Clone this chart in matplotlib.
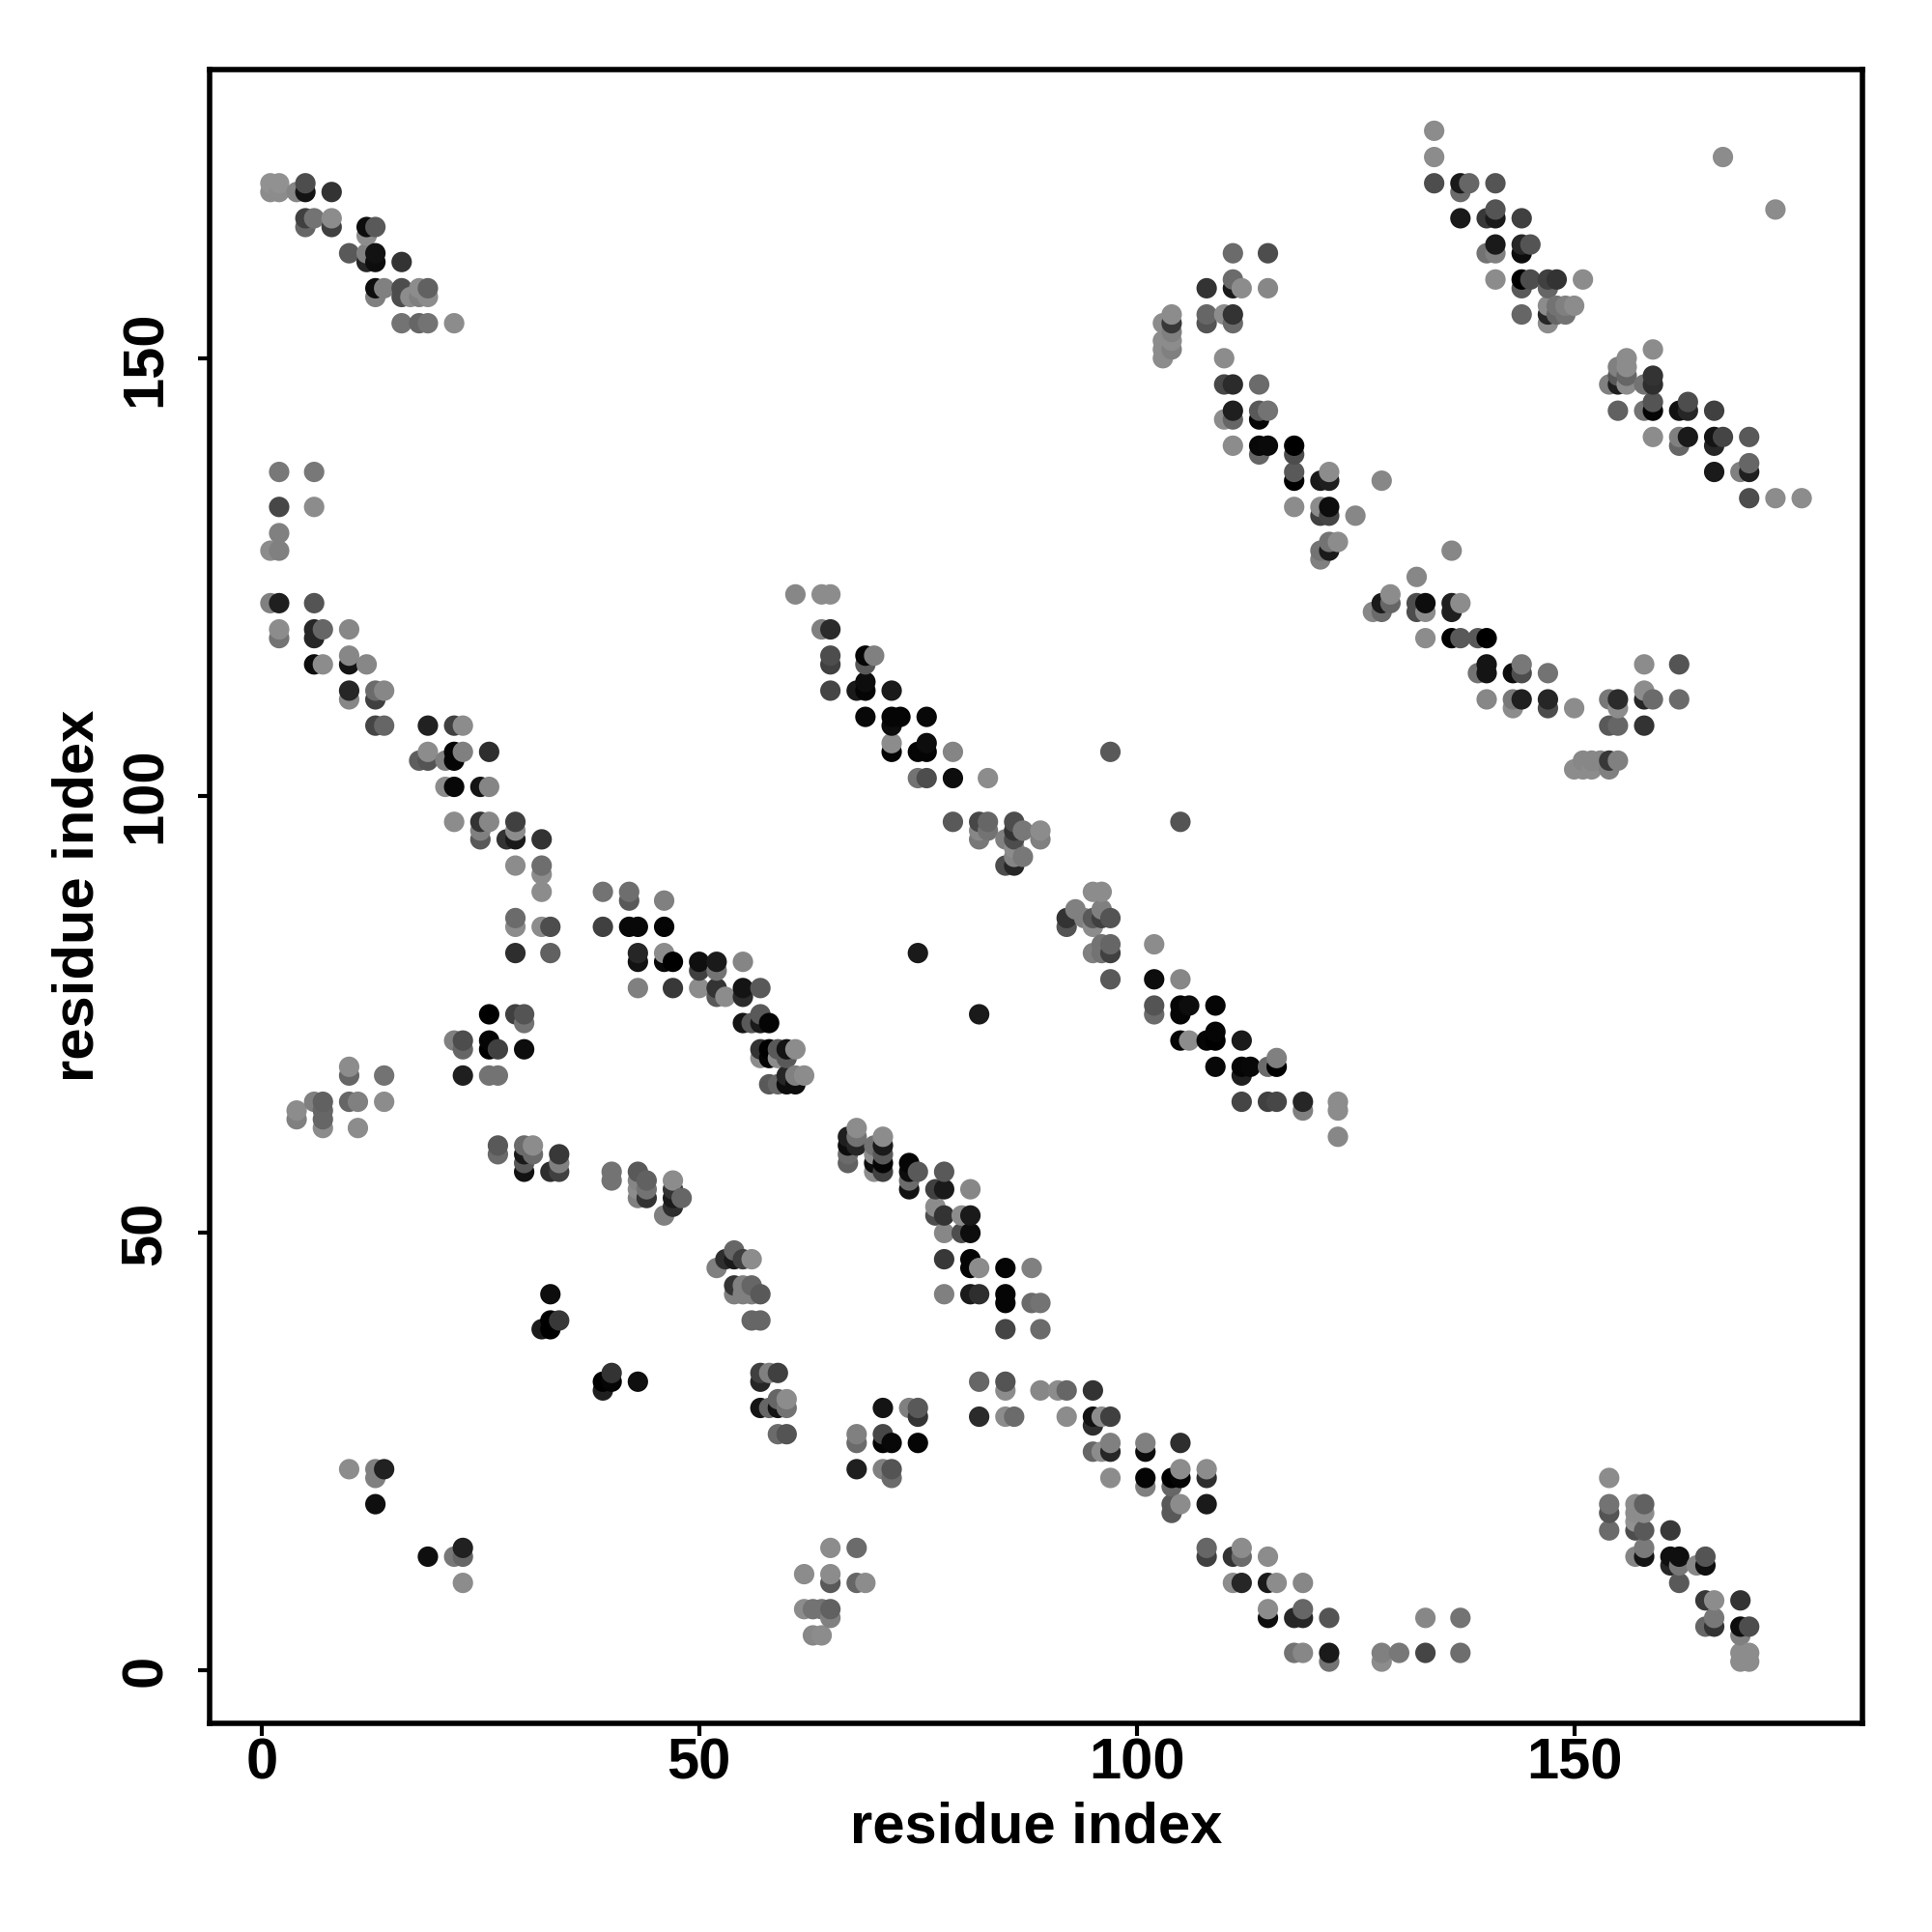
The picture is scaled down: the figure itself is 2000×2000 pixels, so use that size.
import numpy as np
import matplotlib
matplotlib.use("Agg")
import matplotlib.pyplot as plt

plt.rcParams['font.family'] = ['Liberation Sans', 'DejaVu Sans']

tick_values = [0, 50, 100, 150]
axis_title = "residue index"

# contacts by row: j index, the i indices on that row, and their grey levels
row_j = [176,173,170,169,167,166,165,164,163,162,161,159,158,157,156,155,154,153,152,151,150,149,148,147,145,144,143,141,140,139,138,137,136,134,133,132,130,129,128,127,125,123,122,121,119,118,116,115,114,113,112,111,110,109,108,106,105,104,103,102,101,97,96,95,94,93,92,91,89,88,87,86,85,83,82,81,80,79,78,77,76,75,74,73,72,71,70,69,68,67,65,64,63,62,61,60,59,58,57,56,55,54,53,52,50,48,47,46,44,43,42,40,39,34,33,32,31,30,29,28,27,26,25,23,22,21,19,18,17,16,14,13,12,11,10,8,7,6,5,4,2,1]

row_i = [
[134],[134,167],[1,2,5,134,137,138,141],[1,2,4,5,8,137],[141,173],[5,6,8,137,140,141,144],[5,8,12,13],[12],[141,144,145],
[10,12,13,111,115,140,141,144],[12,13,16],[111,141,144,145,147,148,151],[13,14,16,18,19,108,111,112,115,144,147],[13,16,17,18,19],
[147,148,149,150],[104,108,110,111,144,147,148,149],[16,18,19,22,103,104,108,111,147],[104],[103,104],[103,104,159],[103,110,156],
[155,156],[155,156,159],[110,111,114,154,155,156,158,159],[159,163],[111,114,115,155,158,159,162,163,166],[110,111,114],
[159,162,163,166,167,170],[111,114,115,118,162,166],[114,118],[170],[2,6,118,122,166,169,170],[118,121,122,128],[170,173,176],
[2,6,118,121,122],[121,122,125],[2],[122,123],[1,2,121,122,136],[121],[132],[61,64,65,129],[1,2,6,128,129,132,133,136,137],
[127,128,132,133,136],[2,6,7,10,64,65],[2,6,133,136,137,139,140],[10,65,69,70],[6,7,10,12,65,69,140,144,158,162],[139,140,143,144,147],
[69],[10,13,14,65,68,69,72,158],[10,13,140,143,144,147,154,155,158,159,162],[143,147,150,155],[69,72,73,76],
[13,14,19,22,23,72,154,155,158],[72,76],[19,22,23,26,72,75,76,79,97],[18,19,21,22,151,152,153,154,155],[150,151,152,154],[75,76,79,83],
[21,22,25,26],[22,25,26,29,79,82,83,86,105],[25,29,82,83,86,87,89],[25,28,29,32,82,85,86,89],[86],[86,87],[29,32,85,86],[32],
[32,39,42,95,96],[42,46],[93,96],[29,92,94,95,96,97],[29,32,33,39,42,43,46,92,95],[96,97,102],[29,33,43,46,75,95,96,97],
[43,46,47,50,52,55],[50,52],[97,102,105],[43,47,50,52,55,57],[52,53,55],[102,105,106,109],[26,29,30,57,82,102,105],[30,55,56,57,58],
[109],[22,23,26,105,106,108,109,112],[23,26,27,30,57,58,59,60,61],[57,58,59,60,116],[10,109,112,113,115,116],
[10,14,23,26,27,60,61,62,112],[58,59,60,61],[6,7,10,11,14,112,115,116,119,123],[4,7,119,123],[4,7],[7,11,68],[67,68,71,123],
[27,30,31,67,68,70,71],[27,30,31,34,67,70,71],[30,34,67,70,71,74],[30,33,34,40,43,70,71,74,75,78],[40,43,44,47,74],
[43,44,47,74,77,78,81],[43,44,47,48],[47,77],[46,77,78,80,81],[78,80,81],[54],[53,54,55,56,78,81],[52,81,82,85,88],[54,55,56],
[33,54,55,56,57,78,81,82,85],[85,88,89],[33,34,56,57],[32,33,85,89],[40,57,58,59],[39,40,43,57,82,85],[39,85,89,91,92,95],[59,60],
[57,58,59,60,71,74,75],[75,82,85,86,92,95,96,97],[95],[59,60,68,71],[68,71,72,75,97,101,105],[95,96,97,101],
[10,13,14,68,71,72,105,108],[13,72,97,101,104,105,108,154],[101,104],[13,104,105,108,154,157,158],[104,154,157,158],[157],
[154,157,158,161],[23,65,68,108,112,158],[19,22,23,108,111,112,115,157,158,161,162,165],[161,162,164,165],[62,65],
[23,65,68,69,111,112,115,116,119,162],[165,166,169],[62,63,64,65,115,119],[65,115,118,119,122,133,137,166],[165,166,169,170],
[63,64,169],[118,119,122,128,130,133,137,169,170],[122,128,169,170],
]

row_grey = [
[.55],[.55,.55],[.57,.57,.3,.3,.1,.4,.33],[.55,.55,.52,.08,.2,.42],[.33,.55],[.25,.45,.55,.1,.22,.1,.25],[.4,.25,.05,.35],[.55],[.1,.15,.33],
[.35,.5,.07,.42,.3,.45,.5,.05],[.15,.05,.2],[.42,.55,0,.3,.25,.2,.55],[.05,.5,.3,.55,.38,.2,.1,.55,.53,.35,.4],[.5,.3,.55,.5,.55],
[.55,.45,.5,.55],[.55,.4,.55,.2,.4,.15,.4,.45],[.45,.4,.45,.55,.55,.22,.33,.42,.55],[.5],[.55,.55],[.55,.5,.55],[.55,.55,.55],
[.5,.55],[.35,.4,.2],[.28,.17,.42,.5,.12,.55,.45,.18],[.33,.3],[.12,.35,.45,.38,.45,.02,.07,.15,.25],[.55,.4,.02],
[.55,.5,.1,.08,.27,.35],[.55,.03,.04,0,.4,.15],[.4,.3],[.4],[.47,.47,.35,.55,.1,.5,.12],[0,.1,.12,.53],[.3,.55,.55],
[.28,.55,.55,.55,.05],[.25,.27,.53],[.5],[.45,.55],[.55,.5,.45,.1,.53],[.5],[.53],[.53,.55,.55,.55],[.5,.12,.33,.1,.4,.3,.05,.12,.55],
[.53,.42,.3,.55,.12],[.55,.15,.4,.53,.5,.17],[.45,.15,.55,0,.35,.35,0],[.53,.3,.02,.5],[.05,.55,.08,.53,.25,.35,.08,.47,.55,.33],[.45,.08,.05,.3,.45],
[.05],[.15,.42,.53,.27,.1,.02,.1,.55],[.53,.25,.53,.47,.12,.15,.47,.17,.15,.42,.42],[.55,.3,.55,.55],[.03,.02,.02,.03],
[.27,.4,.13,.25,.55,.05,.35,.4,.2],[.55,.05],[.55,.02,.5,.18,.02,.02,.02,.52,.35],[.37,.33,.5,.02,.53,.53,.53,.22,.5],[.55,.55,.55,.5],[.45,.3,.05,.55],
[.55,.03,.08,.52],[.55,.2,.53,.25,.35,.28,.4,.3,.33],[.5,.55,.53,.45,.2,.47,.55],[.35,.2,.1,.2,.47,.5,.3,.5],[.55],[.52,.47],[.55,.43,.3,.15],[.55],
[.55,.45,.43,.55,.55],[.35,.5],[.5,.5],[.42,.2,.5,.35,.25,.33],[.55,.55,.3,.25,.03,.03,.02,.33,.55],[.45,.4,.55],[.18,.38,.15,.55,.1,.5,.45,.25],
[.07,.03,0,.06,.1,.52],[.25,.45],[.35,.05,.53],[.5,.22,.55,.2,.08,.35],[.35,.55,.17],[.33,.02,.05,.02],[0,.25,.33,.35,.1,.42,.02],[.45,.08,.35,.1,.02],
[.02],[.5,.3,.02,.02,.55,.02,0,.1],[.4,0,.25,.05,.2,0,.35,.08,.55],[.55,.02,.55,.35,.5],[.55,.03,.02,.03,.42,0],
[.4,.45,.12,.45,.45,.15,.5,.55,.12],[.35,.4,.05,.05],[.5,.38,.4,.5,.55,.27,.25,.28,.15,.55],[.55,.4,.5,.55],[.5,.4],[.55,.55,.55],[.12,.45,.55,.53],
[.35,.42,.55,.05,.15,.45,.1],[.42,.1,.42,.22,.42,.55,.35],[.35,.5,.38,.05,.02,.02],[.07,.18,.25,.45,.35,.55,.25,.05,.35,.35],[.45,.52,.38,.55,.42],
[.55,.45,.2,.07,.25,.1,.53],[.5,.2,.1,.4],[.18,.55],[.5,.3,.2,.55,.1],[.53,.3,.05],[.4],[.18,.1,.25,.55,.22,.02],[.5,.02,.55,.02,.5],[.2,.5,.4],
[.05,.5,.5,.5,.35,.5,.1,.18,.02],[.02,.42,.45],[0,.22,.4,.4],[.1,0,.27,.42],[.2,.25,.5,.25],[0,.02,.06,.15,.4,.33],[.12,.55,.53,.55,.4,.2],[.4,.55],
[.08,.4,.08,.45,.08,.5,.35],[.2,.17,.55,.42,.55,.07,.55,.25],[.18],[.42,.33,.5,.28],[.42,.02,.03,.02,.5,.5,.18],[.4,.55,.15,.05],
[.55,.5,.13,.12,.5,.33,.55,.55],[.5,.42,.55,.02,0,.02,.18,.55],[.5,.4],[.06,.35,.55,.1,.45,.55,.38],[.35,.33,.55,.55],[.57],
[.42,.3,.35,.22],[.13,.55,.42,.4,.55,.48],[.06,.47,.4,.25,.2,.42,.55,.52,.08,.06,.06,.33],[.15,.47,.53,.06],[.55,.55],
[.55,.35,.4,.55,.55,.15,.1,.55,.53,.35],[.22,.55,.2],[.55,.45,.45,.38,.55,.4],[.5,.05,.15,.15,.33,.53,.45,.47],[.4,.2,.05,.3],
[.53,.55,.5],[.45,.53,.1,.5,.47,.27,.43,.55,.55],[.45,.55,.55,.55],
]

xs, ys, gs = [], [], []
for j, ii, gg in zip(row_j, row_i, row_grey, strict=True):
    for i, g in zip(ii, gg, strict=True):
        xs.append(i); ys.append(j); gs.append(g)
xs = np.array(xs); ys = np.array(ys); gs = np.array(gs)
order = np.lexsort((ys, xs))
colors = [(g, g, g) for g in gs[order]]

fig = plt.figure(figsize=(10, 10), dpi=200)
ax = fig.add_axes([216.5/2000, 1 - 1783.5/2000, (1928.5-216.5)/2000, (1783.5-72)/2000])
ax.scatter(xs[order], ys[order], c=colors, s=58, linewidths=0, zorder=3)
ax.set_xlim(-6, 183)
ax.set_ylim(-6, 183)
ax.set_xticks(tick_values)
ax.set_yticks(tick_values)
ax.set_xticklabels([str(t) for t in tick_values], fontsize=21.5, fontweight='bold')
ax.set_yticklabels([str(t) for t in tick_values], fontsize=21.5, fontweight='bold',
                   rotation=90, va='center')
ax.tick_params(axis='x', length=4.5, width=1.5, pad=1)
ax.tick_params(axis='y', length=4.5, width=1.5, pad=9)
for s in ax.spines.values():
    s.set_linewidth(2.0)
ax.set_xlabel(axis_title, fontsize=21.5, fontweight='bold', labelpad=4)
ax.set_ylabel(axis_title, fontsize=21.5, fontweight='bold', labelpad=5.5)
fig.savefig("out.png", dpi=200, facecolor='white')
